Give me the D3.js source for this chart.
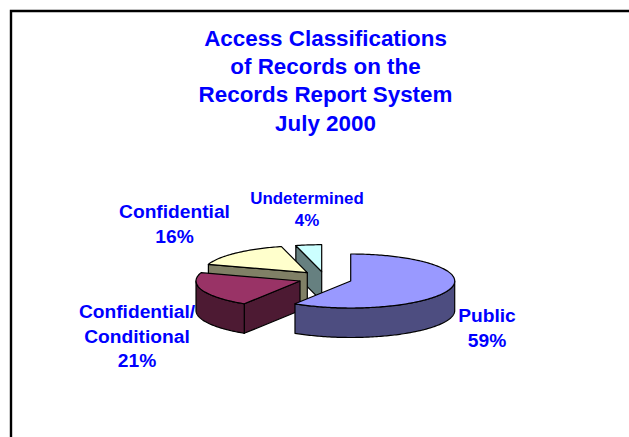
<!DOCTYPE html>
<html>
<head>
<meta charset="utf-8">
<style>
  html, body { margin: 0; padding: 0; background: #fff; overflow: hidden; }
  text { font-family: "Liberation Sans", Arial, sans-serif; font-weight: bold; fill: #0000ff; text-anchor: middle; }
</style>
<script src="https://cdnjs.cloudflare.com/ajax/libs/d3/7.8.5/d3.min.js"></script>
</head>
<body>
<svg id="chart" width="629" height="437"></svg>
<script>
// Share of records per access class, clockwise from twelve o'clock
const categories = ["Public", "Confidential/Conditional", "Confidential", "Undetermined"];
const shares = [59, 21, 16, 4];
const topColors = ["#9999ff", "#993366", "#ffffcc", "#ccffff"];
const wallColors = ["#4d4d80", "#4d1a33", "#808066", "#668080"];
// Centre of each slice after it has been pulled out of the pie
const sliceCentresX = [350.7, 300, 307.3, 321.7];
const sliceCentresY = [281, 281, 272.7, 271.7];

const titleLines = ["Access Classifications", "of Records on the", "Records Report System", "July 2000"];
const labelLines = [
  { lines: ["Public", "59%"], x: 487, y: 322, size: 19.2, lead: 24.5 },
  { lines: ["Confidential/", "Conditional", "21%"], x: 137, y: 318, size: 19.2, lead: 24.5 },
  { lines: ["Confidential", "16%"], x: 174.5, y: 218, size: 19.2, lead: 25 },
  { lines: ["Undetermined", "4%"], x: 307, y: 204, size: 16.9, lead: 22 }
];

const radiusX = 104, radiusY = 27, depth = 29.5;
const svg = d3.select("#chart");

// Frame open to the right and bottom
svg.append("path")
  .attr("d", "M11,437V11H629")
  .attr("fill", "none")
  .attr("stroke", "#000")
  .attr("stroke-width", 2.4);

const pie = d3.pie().sort(null).value(d => d).startAngle(0).endAngle(2 * Math.PI);
const arcs = pie(shares);

const px = (i, a) => sliceCentresX[i] + radiusX * Math.sin(a);
const py = (i, a, drop = 0) => sliceCentresY[i] - radiusY * Math.cos(a) + drop;
const line = d3.line();

function rimPoints(i, a0, a1, drop = 0) {
  const n = Math.max(2, Math.ceil((a1 - a0) / 0.02));
  return d3.range(n + 1).map(k => {
    const a = a0 + (a1 - a0) * k / n;
    return [px(i, a), py(i, a, drop)];
  });
}

function drawFace(points, fill) {
  svg.append("path")
    .attr("d", line(points) + "Z")
    .attr("fill", fill)
    .attr("stroke", "#000")
    .attr("stroke-width", 1.2)
    .attr("stroke-linejoin", "round");
}

// Walls of the near half of the ellipse lie between 90 and 270 degrees
const wallStart = Math.PI / 2, wallEnd = 3 * Math.PI / 2;

// Back slices are painted first so nearer slices overlap them
d3.range(arcs.length - 1, -1, -1).forEach(i => {
  const { startAngle: a0, endAngle: a1 } = arcs[i];
  const cx = sliceCentresX[i], cy = sliceCentresY[i];

  // The cut face along the start edge only looks toward the viewer past 180 degrees
  if (a0 > Math.PI) {
    drawFace([[cx, cy], [px(i, a0), py(i, a0)], [px(i, a0), py(i, a0, depth)], [cx, cy + depth]], wallColors[i]);
  }
  // Outer wall
  const w0 = Math.max(a0, wallStart), w1 = Math.min(a1, wallEnd);
  if (w1 > w0) {
    drawFace([...rimPoints(i, w0, w1), ...rimPoints(i, w0, w1, depth).reverse()], wallColors[i]);
  }
  // Top face
  drawFace([[cx, cy], ...rimPoints(i, a0, a1)], topColors[i]);
});

svg.selectAll("text.title")
  .data(titleLines)
  .join("text")
  .attr("class", "title")
  .attr("x", 325.5)
  .attr("y", (d, i) => 46 + i * 28.2)
  .attr("font-size", 22.4)
  .text(d => d);

labelLines.forEach(lab => {
  lab.lines.forEach((t, k) => {
    svg.append("text")
      .attr("x", lab.x)
      .attr("y", lab.y + k * lab.lead)
      .attr("font-size", lab.size)
      .text(t);
  });
});
</script>
</body>
</html>
